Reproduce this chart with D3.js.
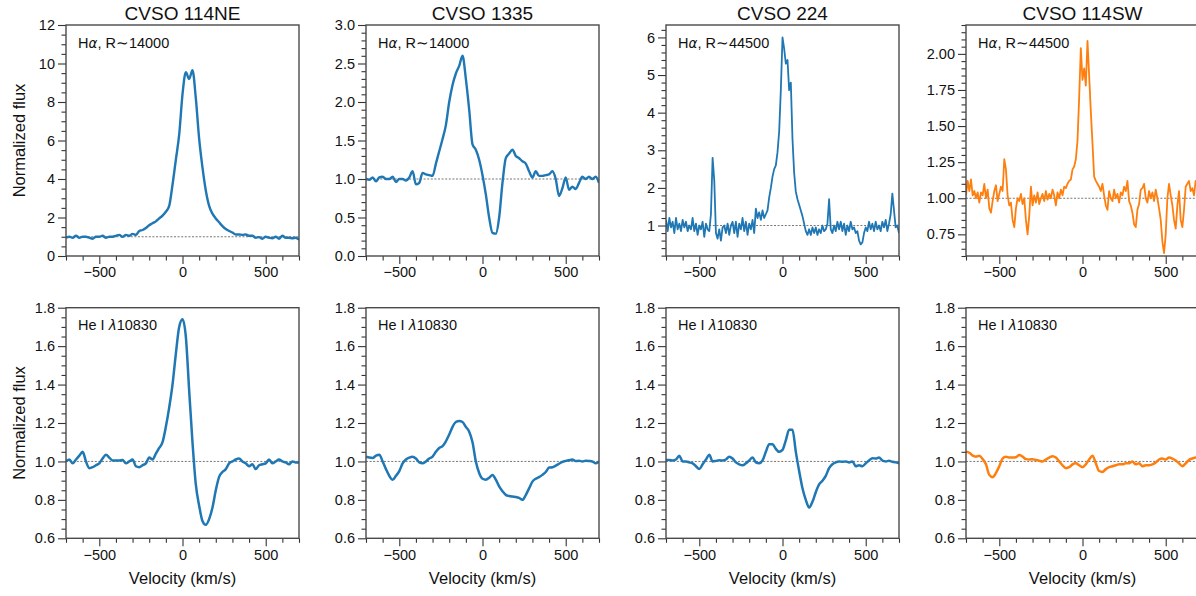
<!DOCTYPE html>
<html>
<head>
<meta charset="utf-8">
<script src="https://cdn.jsdelivr.net/npm/d3@7"></script>
<style>
  html, body { margin: 0; padding: 0; background: #fff; }
  svg { display: block; font-family: "Liberation Sans", Arial, Helvetica, sans-serif; }
</style>
</head>
<body>
<svg id="chart" width="1196" height="596"></svg>
<script>
// ---------------- DATA ----------------
const titles = ["CVSO 114NE", "CVSO 1335", "CVSO 224", "CVSO 114SW"];
const haResolution = ["R\u223C14000", "R\u223C14000", "R\u223C44500", "R\u223C44500"];
const starColors = ["#1f77b4", "#1f77b4", "#1f77b4", "#ff7f0e"];

// velocity sampling grids (km/s)
const velCoarse = d3.range(-700, 701, 20);   // 71 samples
const velFine = d3.range(-700, 701, 10);     // 141 samples

const xTicksMajor = [-500, 0, 500];
const xTicksMinor = [-700, -600, -400, -300, -200, -100, 100, 200, 300, 400, 600, 700];

// H-alpha normalized flux
const ha114NE = [
  0.95, 1.0, 0.95, 1.05, 0.95, 1.0, 1.0, 0.95, 0.9, 1.0,
  1.0, 1.05, 0.95, 1.0, 1.0, 1.05, 1.1, 1.0, 1.1, 1.05,
  1.15, 1.1, 1.3, 1.35, 1.45, 1.6, 1.7, 1.8, 1.95, 2.1,
  2.3, 2.6, 3.7, 5.0, 6.3, 8.4, 9.55, 9.2, 9.65, 8.2,
  6.1, 4.6, 3.4, 2.6, 2.2, 1.95, 1.75, 1.55, 1.4, 1.3,
  1.22, 1.12, 1.12, 1.1, 1.12, 1.05, 1.05, 0.95, 0.98, 0.9,
  1.0, 0.95, 0.92, 1.0, 0.9, 1.05, 0.95, 0.95, 0.92, 0.95,
  0.85
];
const ha1335 = [
  1.0, 0.99, 1.02, 0.97, 1.02, 1.03, 1.0, 1.0, 1.03, 0.96,
  1.0, 1.0, 0.98, 1.02, 1.1, 0.93, 0.95, 1.08, 1.06, 1.05,
  1.04, 1.2, 1.36, 1.52, 1.7, 2.0, 2.22, 2.37, 2.47, 2.6,
  2.3, 1.9, 1.45, 1.38, 1.25, 1.05, 0.8, 0.5, 0.3, 0.29,
  0.5, 0.95, 1.27, 1.33, 1.38, 1.3, 1.27, 1.23, 1.2, 1.1,
  1.02, 1.1, 1.04, 1.04, 1.05, 1.06, 1.1, 1.0, 0.78, 0.88,
  1.02, 0.86, 0.9, 0.87, 0.95, 1.03, 1.0, 1.03, 1.0, 1.03,
  0.95
];
const ha224 = [
  1.15, 0.85, 1.2, 0.95, 1.1, 0.8, 1.2, 0.9, 1.05, 0.85,
  1.15, 0.95, 1.1, 0.85, 1.0, 0.9, 1.2, 0.85, 1.05, 0.75,
  1.0, 0.9, 1.1, 0.7, 1.05, 0.9, 0.85, 1.3, 2.8, 2.2,
  0.8, 0.65, 0.9, 0.6, 0.95, 1.0, 0.8, 1.05, 0.75, 1.0,
  1.1, 0.8, 1.1, 0.7, 1.05, 0.9, 1.2, 0.85, 1.1, 0.75,
  1.05, 0.9, 1.15, 0.8, 1.45, 1.2, 1.35, 1.15, 1.4, 1.2,
  1.3, 1.4, 1.75, 2.0, 2.3, 2.5, 2.6, 2.95, 3.5, 4.6,
  6.0, 5.7, 5.3, 5.4, 4.6, 4.8, 3.3, 2.4, 1.9, 1.7,
  1.55, 1.4, 1.25, 1.05, 0.85, 0.75, 0.9, 0.75, 0.95, 0.8,
  0.95, 0.75, 0.9, 0.8, 1.0, 0.85, 0.9, 1.05, 1.7, 0.9,
  0.8, 1.0, 0.85, 1.1, 0.9, 1.1, 0.85, 1.05, 0.75, 1.0,
  0.85, 1.1, 0.9, 0.95, 0.8, 0.85, 0.6, 0.5, 0.55, 0.8,
  0.95, 0.85, 1.1, 0.9, 1.05, 0.85, 1.1, 0.9, 1.0, 0.85,
  1.1, 0.95, 1.15, 0.85, 1.05, 1.3, 1.85, 1.4, 0.95, 1.0,
  0.8
];
const ha114SW = [
  1.02, 1.12, 1.05, 1.13, 1.02, 1.05, 1.0, 1.04, 0.97, 1.04,
  1.02, 1.1, 1.0, 1.06, 0.93, 0.9, 0.98, 1.05, 1.09, 0.98,
  1.03, 1.08, 1.05, 1.27, 1.2, 1.02, 0.95, 0.97, 0.85, 0.8,
  0.93, 1.0, 0.98, 1.03, 0.96, 1.0, 0.85, 0.75, 0.88, 1.08,
  0.95, 1.02, 0.97, 1.04, 0.96, 1.0, 1.03, 0.98, 1.05, 0.99,
  1.03, 1.0, 1.06, 1.02, 0.95, 1.04, 1.0, 1.06, 1.02, 1.08,
  1.07, 1.1, 1.12, 1.13, 1.2, 1.22, 1.27, 1.4, 1.7, 2.04,
  1.82, 1.9, 1.78, 2.09, 1.85, 1.6, 1.38, 1.15, 1.12, 1.1,
  1.08, 1.05, 1.1, 1.02, 0.95, 0.92, 1.05, 1.0, 0.98, 1.06,
  1.0, 1.03, 0.97, 1.04, 1.02, 1.08, 1.05, 1.12, 0.98, 0.95,
  0.9, 0.82, 0.8, 0.92, 0.96, 1.06, 1.07, 1.1, 1.0, 0.97,
  1.05, 1.0, 1.04, 0.98, 1.06, 1.0, 0.93, 0.85, 0.7, 0.62,
  0.75, 1.0, 1.1, 1.02, 0.95, 0.85, 0.79, 0.95, 1.05, 0.85,
  0.8, 0.92, 1.08, 1.1, 1.12, 1.05, 1.07, 1.02, 1.12, 1.08,
  1.18
];

// He I 10830 normalized flux
const he114NE = [
  1.0, 1.01, 0.99, 1.01, 1.03, 1.05, 1.0, 0.965, 0.97, 0.98,
  0.99, 1.015, 1.035, 1.02, 1.005, 1.005, 1.005, 1.008, 0.99, 1.0,
  1.01, 0.975, 0.97, 0.98, 0.99, 1.02, 1.01, 1.04, 1.07, 1.1,
  1.18, 1.28, 1.4, 1.56, 1.7, 1.74, 1.65, 1.37, 1.1, 0.88,
  0.77, 0.69, 0.67, 0.7, 0.76, 0.85, 0.92, 0.945, 0.96, 0.99,
  1.0, 1.01, 1.015, 1.0, 0.99, 0.975, 0.985, 0.96, 0.98, 0.985,
  0.99, 1.01, 0.99, 1.0, 1.01, 1.0, 0.995, 0.985, 1.0, 0.995,
  0.995
];
const he1335 = [
  1.025, 1.02, 1.018, 1.03, 1.035, 1.0, 0.96, 0.925, 0.905, 0.925,
  0.95, 0.99, 1.01, 1.02, 1.025, 1.015, 0.995, 0.99, 1.0, 1.015,
  1.025, 1.05, 1.07, 1.08, 1.105, 1.14, 1.18, 1.205, 1.21, 1.205,
  1.18, 1.155, 1.1, 1.0, 0.94, 0.91, 0.905, 0.915, 0.93, 0.905,
  0.87, 0.845, 0.826, 0.82, 0.817, 0.815, 0.81, 0.8, 0.825, 0.86,
  0.895, 0.91, 0.918, 0.93, 0.945, 0.968, 0.97, 0.978, 0.988, 0.998,
  1.003, 1.006, 1.01, 1.002, 1.003, 1.0, 1.003, 1.002, 1.0, 0.99,
  1.0
];
const he224 = [
  1.008, 1.008, 1.005, 1.01, 1.03, 1.0, 1.0, 0.995, 0.99, 0.975,
  0.96, 0.985, 1.01, 1.035, 1.0, 1.003, 1.006, 1.005, 1.01, 1.025,
  1.015, 0.995, 0.985, 0.98, 0.99, 1.005, 1.02, 0.995, 0.99, 1.005,
  1.05, 1.09, 1.09, 1.065, 1.05, 1.06, 1.11, 1.165, 1.165, 1.05,
  0.95, 0.86, 0.8, 0.76, 0.79, 0.84, 0.88, 0.9, 0.925, 0.965,
  0.985, 0.995, 1.0, 0.998, 1.0, 0.995, 1.0, 0.975, 0.98, 0.975,
  0.99, 1.005, 1.017, 1.015, 1.02, 1.005, 1.0, 1.003, 0.998, 0.995,
  0.99
];
const he114SW = [
  1.05, 1.045, 1.03, 1.025, 1.03, 1.012, 0.985, 0.93, 0.918, 0.94,
  0.975, 1.015, 1.025, 1.02, 1.02, 1.022, 1.033, 1.025, 1.012, 1.01,
  1.012, 1.008, 1.004, 1.0, 1.01, 1.02, 1.027, 1.02, 1.0, 0.98,
  0.965, 0.97, 0.985, 0.99, 0.98, 0.97, 0.985, 1.01, 1.03, 0.99,
  0.95, 0.945, 0.96, 0.97, 0.975, 0.98, 0.985, 0.985, 0.99, 0.99,
  1.0, 0.985, 0.99, 0.975, 0.98, 0.98, 0.985, 0.995, 1.01, 1.015,
  1.01, 1.02, 1.015, 1.005, 0.99, 0.975, 0.99, 1.008, 1.015, 1.02,
  1.022
];

// y-axis ranges and tick values
const haDomains = [[0, 12], [0, 3], [0.19, 6.33], [0.6, 2.2]];
const haTicksMajor = [
  [0, 2, 4, 6, 8, 10, 12],
  [0, 0.5, 1.0, 1.5, 2.0, 2.5, 3.0],
  [1, 2, 3, 4, 5, 6],
  [0.75, 1.0, 1.25, 1.5, 1.75, 2.0]
];
const haTickFormats = ["d", ".1f", "d", ".2f"];
const haMinorStep = [0.5, 0.1, 0.2, 0.05];
const heDomain = [0.6, 1.8];
const heTicksMajor = [0.6, 0.8, 1.0, 1.2, 1.4, 1.6, 1.8];
const heMinorStep = 0.05;

// ---------------- LAYOUT ----------------
const svg = d3.select("#chart");
const panelLeft = [66, 366, 666, 966];
const panelW = 233;
const rows = [{ top: 25, bottom: 256 }, { top: 307.7, bottom: 538.3 }];

const x = panelLeft.map(l => d3.scaleLinear().domain([-700, 700]).range([l, l + panelW]));

const haSeries = [ha114NE, ha1335, ha224, ha114SW];
const haVel = [velCoarse, velCoarse, velFine, velFine];
const heSeries = [he114NE, he1335, he224, he114SW];

function minorTicks(domain, step, major) {
  const out = [];
  const start = Math.ceil(domain[0] / step - 1e-6);
  const end = Math.floor(domain[1] / step + 1e-6);
  for (let i = start; i <= end; i++) {
    const v = +(i * step).toFixed(4);
    if (!major.some(m => Math.abs(m - v) < 1e-6)) out.push(v);
  }
  return out;
}

function drawPanel(col, row, vel, flux, domain, major, fmt, minorStep, opts) {
  const xs = x[col];
  const r = rows[row];
  const y = d3.scaleLinear().domain(domain).range([r.bottom, r.top]);
  const g = svg.append("g");
  const clipId = `clip-${row}-${col}`;
  g.append("clipPath").attr("id", clipId).append("rect")
    .attr("x", xs.range()[0]).attr("y", r.top)
    .attr("width", panelW).attr("height", r.bottom - r.top);

  // reference line at 1
  g.append("line")
    .attr("x1", xs.range()[0]).attr("x2", xs.range()[1])
    .attr("y1", y(1)).attr("y2", y(1))
    .attr("stroke", "#666").attr("stroke-width", 0.9)
    .attr("stroke-dasharray", "2,1.6")
    .attr("clip-path", `url(#${clipId})`);

  // spectrum
  const pts = vel.map((v, i) => [v, flux[i]]);
  const line = d3.line().x(d => xs(d[0])).y(d => y(d[1]))
    .curve(opts.smooth ? d3.curveMonotoneX : d3.curveLinear);
  g.append("path").datum(pts)
    .attr("d", line)
    .attr("fill", "none")
    .attr("stroke", opts.color)
    .attr("stroke-width", opts.width)
    .attr("stroke-linejoin", "round")
    .attr("clip-path", `url(#${clipId})`);

  // axes
  const yMajor = d3.axisLeft(y).tickValues(major).tickSize(8).tickPadding(3)
    .tickFormat(d3.format(fmt));
  const yMinor = d3.axisLeft(y).tickValues(minorTicks(domain, minorStep, major))
    .tickSize(4.5).tickFormat("");
  const xMajor = d3.axisBottom(xs).tickValues(xTicksMajor).tickSize(8).tickPadding(3)
    .tickFormat(d3.format("d"));
  const xMinor = d3.axisBottom(xs).tickValues(xTicksMinor).tickSize(4.5).tickFormat("");

  const axStyle = sel => {
    sel.select(".domain").remove();
    sel.selectAll("line").attr("stroke", "#333").attr("stroke-width", 1.1);
    sel.selectAll("text").attr("fill", "#111").style("font-size", "14.5px")
      .style("font-family", '"Liberation Sans", Arial, Helvetica, sans-serif');
  };
  g.append("g").attr("transform", `translate(${xs.range()[0]},0)`).call(yMinor).call(axStyle);
  g.append("g").attr("transform", `translate(${xs.range()[0]},0)`).call(yMajor).call(axStyle);
  g.append("g").attr("transform", `translate(0,${r.bottom})`).call(xMinor).call(axStyle);
  g.append("g").attr("transform", `translate(0,${r.bottom})`).call(xMajor).call(axStyle);

  // frame
  g.append("rect")
    .attr("x", xs.range()[0]).attr("y", r.top)
    .attr("width", panelW).attr("height", r.bottom - r.top)
    .attr("fill", "none").attr("stroke", "#4a4a4a").attr("stroke-width", 1.4);

  return g;
}

const fontFam = '"Liberation Sans", Arial, Helvetica, sans-serif';

for (let c = 0; c < 4; c++) {
  // H-alpha row
  const gTop = drawPanel(c, 0, haVel[c], haSeries[c], haDomains[c], haTicksMajor[c],
    haTickFormats[c], haMinorStep[c],
    { color: starColors[c], width: c >= 2 ? 1.8 : 2.4, smooth: c < 2 });
  const xl = panelLeft[c];
  const t1 = gTop.append("text").attr("x", xl + 12).attr("y", 48)
    .attr("font-size", "14.5px").attr("font-family", fontFam).attr("fill", "#111");
  t1.append("tspan").text("H");
  t1.append("tspan").attr("font-style", "italic").attr("font-family", '"DejaVu Sans", sans-serif')
    .attr("font-size", "13.5px").text("\u03B1");
  t1.append("tspan").text(", " + haResolution[c]);

  // title
  svg.append("text").attr("x", xl + panelW / 2).attr("y", 20)
    .attr("text-anchor", "middle").attr("font-size", "19px").attr("font-family", fontFam)
    .attr("fill", "#111").text(titles[c]);

  // He I row
  const gBot = drawPanel(c, 1, velCoarse, heSeries[c], heDomain, heTicksMajor,
    ".1f", heMinorStep, { color: starColors[c], width: 2.5, smooth: true });
  const t2 = gBot.append("text").attr("x", xl + 12).attr("y", 330)
    .attr("font-size", "14.5px").attr("font-family", fontFam).attr("fill", "#111");
  t2.append("tspan").text("He I ");
  t2.append("tspan").attr("font-style", "italic").attr("font-family", '"DejaVu Sans", sans-serif')
    .attr("font-size", "13.5px").text("\u03BB");
  t2.append("tspan").text("10830");

  // x label
  svg.append("text").attr("x", xl + panelW / 2).attr("y", 584)
    .attr("text-anchor", "middle").attr("font-size", "16.5px").attr("font-family", fontFam)
    .attr("fill", "#111").text("Velocity (km/s)");
}

// y labels
[rows[0], rows[1]].forEach(r => {
  const cy = (r.top + r.bottom) / 2;
  svg.append("text")
    .attr("transform", `translate(25,${cy}) rotate(-90)`)
    .attr("text-anchor", "middle").attr("font-size", "16.5px").attr("font-family", fontFam)
    .attr("fill", "#111").text("Normalized flux");
});
</script>
</body>
</html>
